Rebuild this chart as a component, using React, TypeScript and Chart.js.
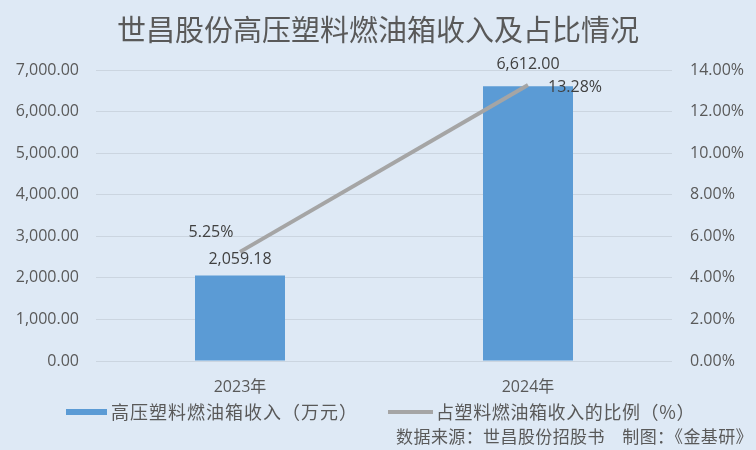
import React, { useEffect, useRef } from "react";
import { Chart, registerables } from "chart.js";

Chart.register(...registerables);

const TITLE = "世昌股份高压塑料燃油箱收入及占比情况";
const SOURCE = "数据来源：世昌股份招股书　制图：《金基研》";
const categories = ["2023年", "2024年"];
const revenueLabel = "高压塑料燃油箱收入（万元）";
const revenue = [2059.18, 6612.0];
const shareLabel = "占塑料燃油箱收入的比例（%）";
const share = [5.25, 13.28];

const BG = "#dee9f5";
const BLUE = "#5b9bd5";
const GREY = "#a5a5a5";
const TICK = "#595959";
const LABEL = "#404040";
const FONT = "'Open Sans', 'Noto Sans CJK SC', sans-serif";
const CJK = "'Noto Sans CJK SC', sans-serif";

const fmtMoney = (v: number) =>
  v.toLocaleString("en-US", { minimumFractionDigits: 2, maximumFractionDigits: 2 });
const fmtPct = (v: number) => v.toFixed(2) + "%";

// label placement styling (offsets from the mark)
const barLabelGap = [8, 14];
const lineLabelOffset = [
  [-29, -19],
  [47, 2],
];

const decorPlugin = {
  id: "decor",
  beforeDraw(chart: any) {
    const { ctx, width, height } = chart;
    ctx.save();
    ctx.fillStyle = BG;
    ctx.fillRect(0, 0, width, height);
    ctx.restore();
  },
  afterDraw(chart: any) {
    const { ctx } = chart;
    ctx.save();
    // title
    ctx.fillStyle = TICK;
    ctx.font = `29px ${CJK}`;
    ctx.textAlign = "center";
    ctx.textBaseline = "middle";
    ctx.fillText(TITLE, 378, 30);

    // bar labels
    const barMeta = chart.getDatasetMeta(0);
    ctx.font = `16px ${FONT}`;
    ctx.fillStyle = LABEL;
    ctx.textAlign = "center";
    ctx.textBaseline = "bottom";
    barMeta.data.forEach((el: any, i: number) => {
      ctx.fillText(fmtMoney(revenue[i]), el.x, el.y - barLabelGap[i]);
    });

    // line labels
    const lineMeta = chart.getDatasetMeta(1);
    ctx.textBaseline = "middle";
    lineMeta.data.forEach((el: any, i: number) => {
      const [dx, dy] = lineLabelOffset[i];
      ctx.fillText(fmtPct(share[i]), el.x + dx, el.y + dy);
    });

    // legend
    const ly = 412;
    ctx.fillStyle = BLUE;
    ctx.fillRect(66, ly - 3, 41, 6);
    ctx.strokeStyle = GREY;
    ctx.lineWidth = 4;
    ctx.beginPath();
    ctx.moveTo(388, ly);
    ctx.lineTo(433, ly);
    ctx.stroke();
    ctx.fillStyle = TICK;
    ctx.font = `18px ${CJK}`;
    ctx.textAlign = "left";
    ctx.textBaseline = "middle";
    (ctx as any).letterSpacing = "1px";
    ctx.fillText(revenueLabel, 111, ly);
    (ctx as any).letterSpacing = "0.6px";
    ctx.fillText(shareLabel, 436, ly);

    // source
    ctx.font = `17px ${CJK}`;
    (ctx as any).letterSpacing = "0.4px";
    ctx.textAlign = "right";
    ctx.fillText(SOURCE, 753, 437);
    ctx.restore();
  },
};

export default function App() {
  const ref = useRef<HTMLCanvasElement>(null);
  useEffect(() => {
    document.body.style.margin = "0";
    const chart = new Chart(ref.current!, {
      type: "bar",
      data: {
        labels: categories,
        datasets: [
          {
            type: "bar",
            label: revenueLabel,
            data: revenue,
            backgroundColor: BLUE,
            yAxisID: "y",
            barPercentage: 0.3125,
            categoryPercentage: 1,
            order: 2,
          },
          {
            type: "line",
            label: shareLabel,
            data: share,
            borderColor: GREY,
            borderWidth: 4,
            pointRadius: 0,
            yAxisID: "y1",
            order: 1,
          } as any,
        ],
      },
      options: {
        animation: false,
        responsive: false,
        layout: { padding: { top: 70, left: 0, right: 0, bottom: 0 } },
        plugins: { legend: { display: false }, title: { display: false }, tooltip: { enabled: false } },
        scales: {
          x: {
            grid: { display: false },
            border: { display: false },
            ticks: { font: { size: 16, family: FONT }, color: TICK, padding: 9 },
            afterFit: (s: any) => {
              s.height = 89;
            },
          },
          y: {
            position: "left",
            min: 0,
            max: 7000,
            ticks: {
              stepSize: 1000,
              font: { size: 16, family: FONT },
              color: TICK,
              padding: 17,
              callback: (v: any) => fmtMoney(Number(v)),
            },
            grid: { color: "#cbd5e0", drawTicks: false },
            border: { display: false },
            afterFit: (s: any) => {
              s.width = 96;
            },
          },
          y1: {
            position: "right",
            min: 0,
            max: 14,
            ticks: {
              stepSize: 2,
              font: { size: 16, family: FONT },
              color: TICK,
              padding: 18,
              callback: (v: any) => fmtPct(Number(v)),
            },
            grid: { display: false, drawTicks: false },
            border: { display: false },
            afterFit: (s: any) => {
              s.width = 84;
            },
          },
        },
      } as any,
      plugins: [decorPlugin],
    });
    return () => chart.destroy();
  }, []);
  return <canvas ref={ref} width={756} height={450} style={{ display: "block" }} />;
}
